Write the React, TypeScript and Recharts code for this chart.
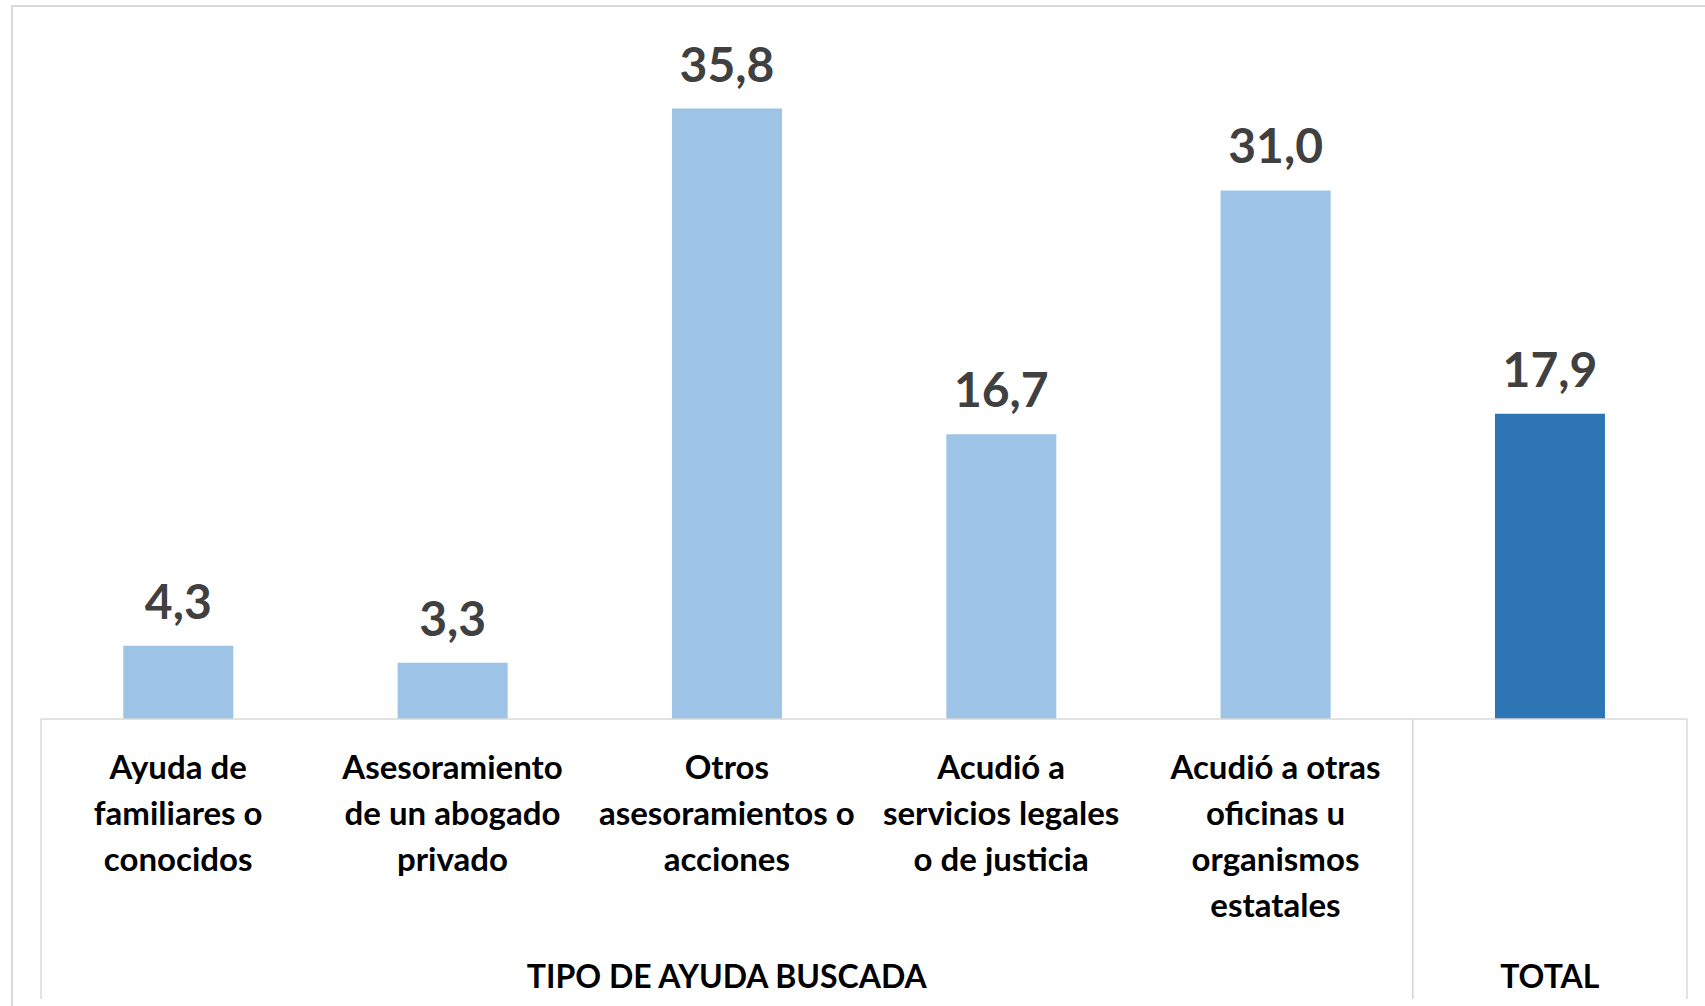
import React from "react";
import { BarChart, Bar, XAxis, YAxis, Cell, LabelList } from "recharts";

const categoryLines: string[][] = [
  ["Ayuda de", "familiares o", "conocidos"],
  ["Asesoramiento", "de un abogado", "privado"],
  ["Otros", "asesoramientos o", "acciones"],
  ["Acudió a", "servicios legales", "o de justicia"],
  ["Acudió a otras", "oficinas u", "organismos", "estatales"],
  [],
];
const values = [4.3, 3.3, 35.8, 16.7, 31.0, 17.9];
const groups = [
  { label: "TIPO DE AYUDA BUSCADA", span: 5 },
  { label: "TOTAL", span: 1 },
];
const barColors = ["#9DC3E6", "#9DC3E6", "#9DC3E6", "#9DC3E6", "#9DC3E6", "#2E75B6"];

const W = 1705;
const H = 1006;
const margin = { top: 37, right: 18, left: 41, bottom: 0 };
const FONT = "Lato, 'Open Sans', sans-serif";
const GRID = "#d9d9d9";

const data = values.map((v, i) => ({ key: `c${i}`, value: v }));

const band = (W - margin.left - margin.right) / values.length;

// group start/end indices
const groupStart: Record<number, { label: string; span: number }> = {};
const groupEnds = new Set<number>();
{
  let idx = 0;
  groups.forEach((g) => {
    groupStart[idx] = g;
    groupEnds.add(idx + g.span - 1);
    idx += g.span;
  });
}

function CategoryTick(props: any) {
  const { x, y, index } = props;
  const lines = categoryLines[index] || [];
  const g = groupStart[index];
  return (
    <g>
      {lines.map((l, i) => (
        <text
          key={i}
          x={x}
          y={y + 60 + i * 46}
          textAnchor="middle"
          fontFamily={FONT}
          fontWeight={700}
          fontSize={33}
          fill="#000"
        >
          {l}
        </text>
      ))}
      {g && (
        <>
          <line x1={x - band / 2} x2={x - band / 2} y1={y} y2={y + 280} stroke={GRID} strokeWidth={1.5} />
          <text
            x={x + ((g.span - 1) * band) / 2}
            y={y + 269}
            textAnchor="middle"
            fontFamily={FONT}
            fontWeight={700}
            fontSize={32}
            fill="#000"
          >
            {g.label}
          </text>
        </>
      )}
      {groupEnds.has(index) && (
        <line x1={x + band / 2} x2={x + band / 2} y1={y} y2={y + 280} stroke={GRID} strokeWidth={1.5} />
      )}
    </g>
  );
}

function ValueLabel(props: any) {
  const { x, y, width, value } = props;
  return (
    <text
      x={x + width / 2}
      y={y - 27}
      textAnchor="middle"
      fontFamily={FONT}
      fontWeight={700}
      fontSize={48}
      fill="#404040"
    >
      {Number(value).toFixed(1).replace(".", ",")}
    </text>
  );
}

export default function App() {
  return (
    <div style={{ position: "absolute", left: 0, top: 0, width: W, height: H, background: "#fff" }}>
      <div
        style={{
          position: "absolute",
          left: 11,
          top: 5,
          width: W - 11,
          height: H - 5,
          borderTop: `2px solid ${GRID}`,
          borderLeft: `2px solid ${GRID}`,
          boxSizing: "border-box",
        }}
      />
      <BarChart
        width={W}
        height={H}
        data={data}
        margin={margin}
        barCategoryGap="30%"
        style={{ position: "absolute", left: 0, top: 0 }}
      >
        <XAxis
          dataKey="key"
          height={287}
          tickLine={false}
          tickSize={0}
          tickMargin={0}
          axisLine={{ stroke: GRID, strokeWidth: 1.5 }}
          tick={<CategoryTick />}
          interval={0}
        />
        <YAxis hide width={0} domain={[0, 40]} />
        <Bar dataKey="value" isAnimationActive={false}>
          {data.map((d, i) => (
            <Cell key={d.key} fill={barColors[i]} />
          ))}
          <LabelList dataKey="value" content={<ValueLabel />} />
        </Bar>
      </BarChart>
    </div>
  );
}
